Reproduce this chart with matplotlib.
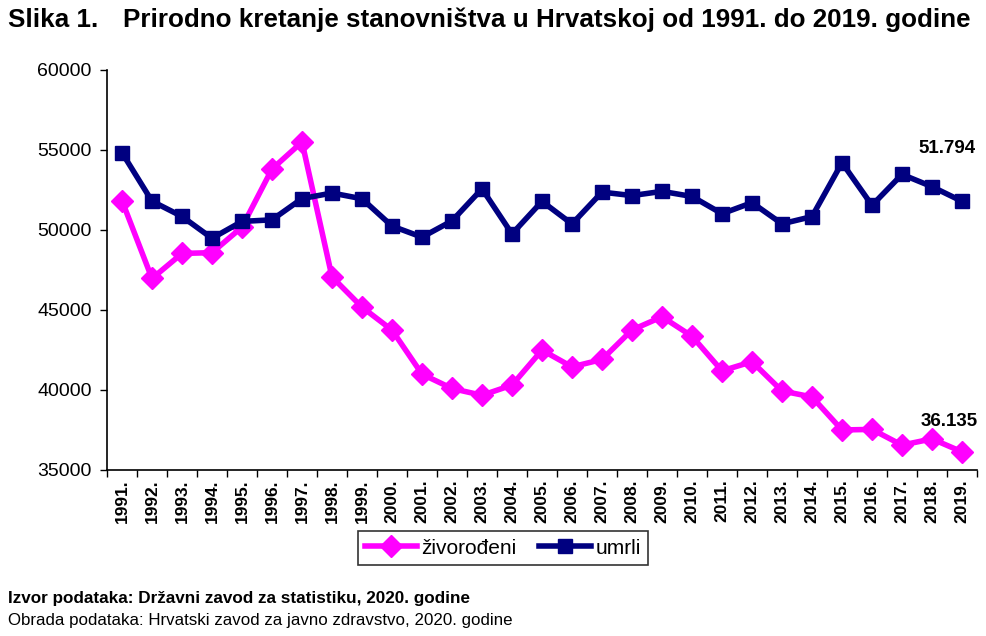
import numpy as np
import matplotlib
matplotlib.use("Agg")
import matplotlib.pyplot as plt
from matplotlib.lines import Line2D

plt.rcParams["font.family"] = ["Liberation Sans", "DejaVu Sans"]

# Data
years = [str(y) + "." for y in range(1991, 2020)]
zivorodjeni = [51829, 46970, 48535, 48584, 50182, 53811, 55501, 47068, 45179, 43746,
               40993, 40094, 39668, 40307, 42492, 41446, 41910, 43753, 44577, 43361,
               41197, 41771, 39939, 39566, 37503, 37537, 36556, 36945, 36135]
umrli = [54832, 51800, 50846, 49482, 50536, 50636, 51964, 52311, 51953, 50246,
         49552, 50569, 52575, 49756, 51790, 50378, 52367, 52151, 52414, 52096,
         51019, 51710, 50386, 50839, 54205, 51542, 53477, 52706, 51794]
y_ticks = [35000, 40000, 45000, 50000, 55000, 60000]

magenta = "#FF00FF"
navy = "#000080"

fig = plt.figure(figsize=(9.86, 6.36), dpi=100)
ax = fig.add_axes([107 / 986, 1 - 470 / 636, 870 / 986, 400 / 636])

x = np.arange(len(years))
ax.plot(x, zivorodjeni, color=magenta, lw=4, marker="D", ms=11, mec=magenta, mfc=magenta)
ax.plot(x, umrli, color=navy, lw=4, marker="s", ms=10, mec=navy, mfc=navy)

ax.set_xlim(-0.5, len(years) - 0.5)
ax.set_ylim(35000, 60000)
ax.set_yticks(y_ticks)
ax.set_yticklabels([str(v) for v in y_ticks], fontsize=14)
ax.tick_params(axis="y", length=5, width=1, pad=6)

ax.set_xticks(x)
ax.set_xticklabels(years, rotation=90, fontsize=12.5, fontweight="bold")
ax.tick_params(axis="x", which="major", length=0, pad=7)
ax.set_xticks(np.arange(len(years) + 1) - 0.5, minor=True)
ax.tick_params(axis="x", which="minor", length=5, width=1, direction="out")

for s in ["top", "right"]:
    ax.spines[s].set_visible(False)
for s in ["left", "bottom"]:
    ax.spines[s].set_linewidth(1.2)
    ax.spines[s].set_color("black")

# value labels for the last year
ax.annotate("51.794", (x[-1], umrli[-1]), xytext=(-11, 38), textcoords="offset points",
            ha="center", va="center", fontsize=13.5, fontweight="bold")
ax.annotate("36.135", (x[-1], zivorodjeni[-1]), xytext=(-9, 22), textcoords="offset points",
            ha="center", va="center", fontsize=13.5, fontweight="bold")

handles = [Line2D([], [], color=magenta, lw=4, marker="D", ms=11),
           Line2D([], [], color=navy, lw=4, marker="s", ms=10)]
leg = fig.legend(handles, ["živorođeni", "umrli"], loc="center",
                 bbox_to_anchor=(503 / 986, 1 - 548 / 636), ncol=2, fontsize=15,
                 frameon=True, fancybox=False, edgecolor="black", handlelength=2.5,
                 handletextpad=0.2, columnspacing=1.1, borderpad=0.35)
leg.get_frame().set_linewidth(1.2)

fig.text(8 / 986, 1 - 20 / 636, "Slika 1.", fontsize=18.7, fontweight="bold", va="center")
fig.text(123 / 986, 1 - 20 / 636,
         "Prirodno kretanje stanovništva u Hrvatskoj od 1991. do 2019. godine",
         fontsize=18.7, fontweight="bold", va="center")
fig.text(8 / 986, 1 - 598 / 636, "Izvor podataka: Državni zavod za statistiku, 2020. godine",
         fontsize=12.3, fontweight="bold", va="center")
fig.text(8 / 986, 1 - 620 / 636, "Obrada podataka: Hrvatski zavod za javno zdravstvo, 2020. godine",
         fontsize=12.2, va="center")

fig.savefig("out.png", dpi=100)
